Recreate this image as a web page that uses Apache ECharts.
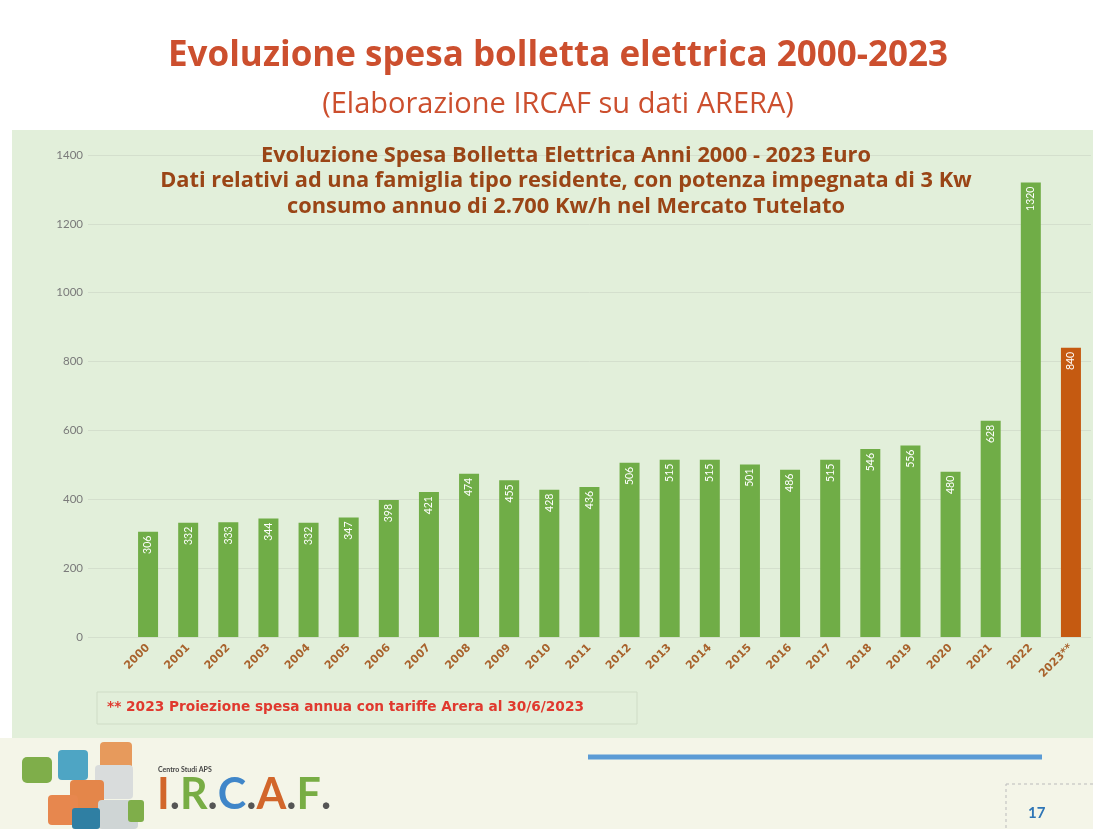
<!DOCTYPE html>
<html><head><meta charset="utf-8">
<script src="https://cdn.jsdelivr.net/npm/echarts@6/dist/echarts.min.js"></script>
<style>html,body{margin:0;padding:0;background:#fff}#c{width:1093px;height:829px}</style>
</head><body><div id="c"></div>
<script>
const years = ['2000','2001','2002','2003','2004','2005','2006','2007','2008','2009','2010','2011','2012','2013','2014','2015','2016','2017','2018','2019','2020','2021','2022','2023**'];
const spesa = [306, 332, 333, 344, 332, 347, 398, 421, 474, 455, 428, 436, 506, 515, 515, 501, 486, 515, 546, 556, 480, 628, 1320, 840];
const projectedYear = '2023**';
const yMin = 0, yMax = 1400, yStep = 200;

const mainTitle = 'Evoluzione spesa bolletta elettrica 2000-2023';
const subTitle = '(Elaborazione IRCAF su dati ARERA)';
const chartTitle = ['Evoluzione Spesa Bolletta Elettrica Anni 2000 - 2023 Euro',
  'Dati relativi ad una famiglia tipo residente, con potenza impegnata di 3 Kw',
  'consumo annuo di 2.700 Kw/h nel Mercato Tutelato'];
const footnote = '** 2023 Proiezione spesa annua con tariffe Arera al 30/6/2023';

const GREEN = '#70ad47', ORANGE = '#c55a11';
const chart = echarts.init(document.getElementById('c'));
const barData = spesa.map((v, i) => ({
  value: v,
  itemStyle: { color: years[i] === projectedYear ? ORANGE : GREEN }
}));

chart.setOption({
  backgroundColor: '#ffffff',
  animation: false,
  graphic: [
    { type: 'rect', z: -10, shape: { x: 12, y: 130, width: 1081, height: 608 }, style: { fill: '#e2efda' } },
    { type: 'rect', z: -10, shape: { x: 0, y: 738, width: 1093, height: 91 }, style: { fill: '#f4f5e8' } },
    { type: 'text', x: 558, y: 56, style: { text: mainTitle, font: 'bold 35px "Open Sans"', fill: '#cc4f2e', align: 'center', verticalAlign: 'middle' } },
    { type: 'text', x: 558, y: 105, style: { text: subTitle, font: '29px "Open Sans"', fill: '#cc4f2e', align: 'center', verticalAlign: 'middle' } },
    { type: 'text', z: 100, x: 566, y: 181, style: { text: chartTitle.join('\n'), font: 'bold 21.8px "Open Sans"', lineHeight: 25.5, fill: '#9a4516', align: 'center', verticalAlign: 'middle' } },
    { type: 'rect', shape: { x: 97, y: 692, width: 540, height: 32 }, style: { fill: 'none', stroke: '#cfdcc6', lineWidth: 1 } },
    { type: 'text', x: 107, y: 707, style: { text: footnote, font: 'bold 13.7px "DejaVu Sans"', fill: '#e0392e', verticalAlign: 'middle' } },
    { type: 'line', shape: { x1: 588, y1: 757, x2: 1042, y2: 757 }, style: { stroke: '#5b9bd5', lineWidth: 5 } },
    { type: 'rect', shape: { x: 1006, y: 784, width: 92, height: 50 }, style: { fill: 'none', stroke: '#bbbbbb', lineWidth: 1, lineDash: [3, 3] } },
    { type: 'text', x: 1028, y: 813, style: { text: '17', font: 'bold 15px Lato', fill: '#2e75b6', verticalAlign: 'middle' } },
    // logo cubes
    { type: 'rect', shape: { x: 22, y: 757, width: 30, height: 26, r: 5 }, style: { fill: '#7fae4a' } },
    { type: 'rect', shape: { x: 58, y: 750, width: 30, height: 30, r: 4 }, style: { fill: '#4ea5c4' } },
    { type: 'rect', shape: { x: 100, y: 742, width: 32, height: 30, r: 4 }, style: { fill: '#e79a5c' } },
    { type: 'rect', shape: { x: 95, y: 765, width: 38, height: 34, r: 4 }, style: { fill: '#d9dcdc' } },
    { type: 'rect', shape: { x: 70, y: 780, width: 34, height: 30, r: 4 }, style: { fill: '#e4864a' } },
    { type: 'rect', shape: { x: 48, y: 795, width: 30, height: 30, r: 4 }, style: { fill: '#e7874e' } },
    { type: 'rect', shape: { x: 98, y: 800, width: 40, height: 29, r: 4 }, style: { fill: '#cfd5d5' } },
    { type: 'rect', shape: { x: 128, y: 800, width: 16, height: 22, r: 3 }, style: { fill: '#7fae4a' } },
    { type: 'rect', shape: { x: 72, y: 808, width: 28, height: 21, r: 3 }, style: { fill: '#2f7fa3' } },
    { type: 'text', x: 158, y: 766, style: { text: 'Centro Studi APS', font: 'bold 7px Lato', fill: '#444' } },
    { type: 'text', x: 157, y: 774, style: { rich: {
        o: { font: 'bold 43px Lato', fill: '#d2662b' }, g: { font: 'bold 43px Lato', fill: '#78ad44' },
        b: { font: 'bold 43px Lato', fill: '#3f86c9' }, d: { font: 'bold 43px Lato', fill: '#555' } },
        text: '{o|I}{d|.}{g|R}{d|.}{b|C}{d|.}{o|A}{d|.}{g|F}{d|.}' } }
  ],
  grid: [
    { left: 128, right: 2, top: 155, bottom: 192 },
    { left: 88, right: 2, top: 155, bottom: 192 }
  ],
  xAxis: [
    { type: 'category', gridIndex: 0, data: years,
      axisLine: { show: false }, axisTick: { show: false },
      axisLabel: { rotate: 45, margin: 9, interval: 0, fontSize: 11, fontWeight: 'bold', color: '#a8622c', fontFamily: 'DejaVu Sans' } },
    { type: 'category', gridIndex: 1, data: [''], show: false }
  ],
  yAxis: [
    { type: 'value', gridIndex: 0, min: yMin, max: yMax, interval: yStep,
      axisLabel: { show: false }, splitLine: { show: false }, axisLine: { show: false }, axisTick: { show: false } },
    { type: 'value', gridIndex: 1, min: yMin, max: yMax, interval: yStep,
      axisLine: { show: false }, axisTick: { show: false },
      axisLabel: { fontSize: 11.5, color: '#7a7a7a', margin: 5, fontFamily: 'Lato', formatter: v => String(v) },
      splitLine: { lineStyle: { color: '#d4dfcd', width: 1 } } }
  ],
  series: [{
    type: 'bar', xAxisIndex: 0, yAxisIndex: 0, data: barData, barWidth: 20, z: 5,
    label: { show: true, position: 'insideTop', distance: 4, rotate: 90, align: 'right', verticalAlign: 'middle',
      color: '#ffffff', fontSize: 10.5, fontFamily: 'Lato' }
  }]
});
</script></body></html>
